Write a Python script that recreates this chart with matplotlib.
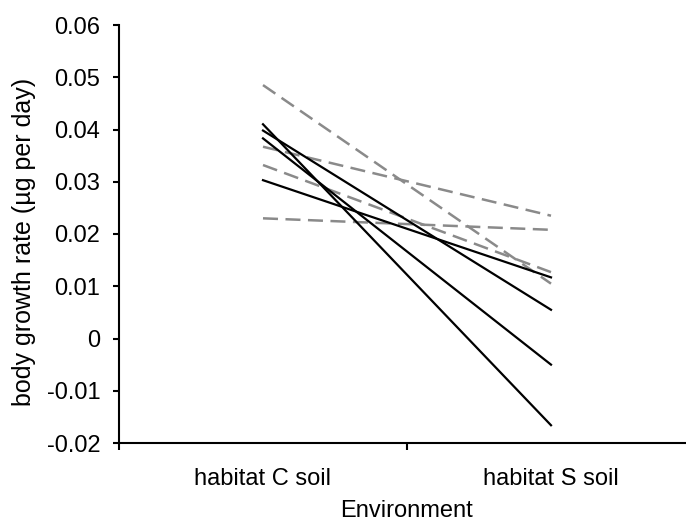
import matplotlib
matplotlib.use("Agg")
import matplotlib.pyplot as plt
import numpy as np

plt.rcParams['font.family'] = ['Liberation Sans', 'DejaVu Sans']

environments = ["habitat C soil", "habitat S soil"]

# solid black lines: growth rate in C soil -> S soil
black_c = [0.0410, 0.0398, 0.0383, 0.0303]
black_s = [-0.0166, 0.0055, -0.0050, 0.0117]

# dashed grey lines
grey_c = [0.0485, 0.0367, 0.0332, 0.0230]
grey_s = [0.0105, 0.0235, 0.0127, 0.0208]

yticks = [-0.02, -0.01, 0, 0.01, 0.02, 0.03, 0.04, 0.05, 0.06]
ytick_labels = ["-0.02", "-0.01", "0", "0.01", "0.02", "0.03", "0.04", "0.05", "0.06"]

fig = plt.figure(figsize=(6.86, 5.22), dpi=100)
ax = fig.add_axes([119 / 686, 79 / 522, 576 / 686, 418 / 522])

x = np.arange(len(environments))
for c, s in zip(grey_c, grey_s):
    ln, = ax.plot(x, [c, s], color="#8a8a8a", lw=1.8, solid_capstyle="butt")
    ln.set_dashes((6, 3))
for c, s in zip(black_c, black_s):
    ax.plot(x, [c, s], color="black", lw=1.6)

ax.set_xlim(-0.5, 1.5)
ax.set_ylim(-0.02, 0.06)
ax.set_yticks(yticks)
ax.set_yticklabels(ytick_labels, fontsize=17)

ax.set_xticks(x)
ax.set_xticklabels(environments, fontsize=17)
ax.set_xticks([-0.5, 0.5, 1.5], minor=True)
ax.tick_params(axis="x", which="major", length=0, pad=18)
ax.tick_params(axis="x", which="minor", length=5, width=1.5, direction="out")
ax.tick_params(axis="y", length=4.5, width=1.5, direction="out", pad=9)

for side in ["top", "right"]:
    ax.spines[side].set_visible(False)
for side in ["left", "bottom"]:
    ax.spines[side].set_linewidth(1.5)

ax.set_xlabel("Environment", fontsize=17)
ax.xaxis.set_label_coords(0.5, -0.136)
ax.set_ylabel("body growth rate (µg per day)", fontsize=18)
ax.yaxis.set_label_coords(-0.144, 0.48)

fig.savefig("out.png", dpi=100)
